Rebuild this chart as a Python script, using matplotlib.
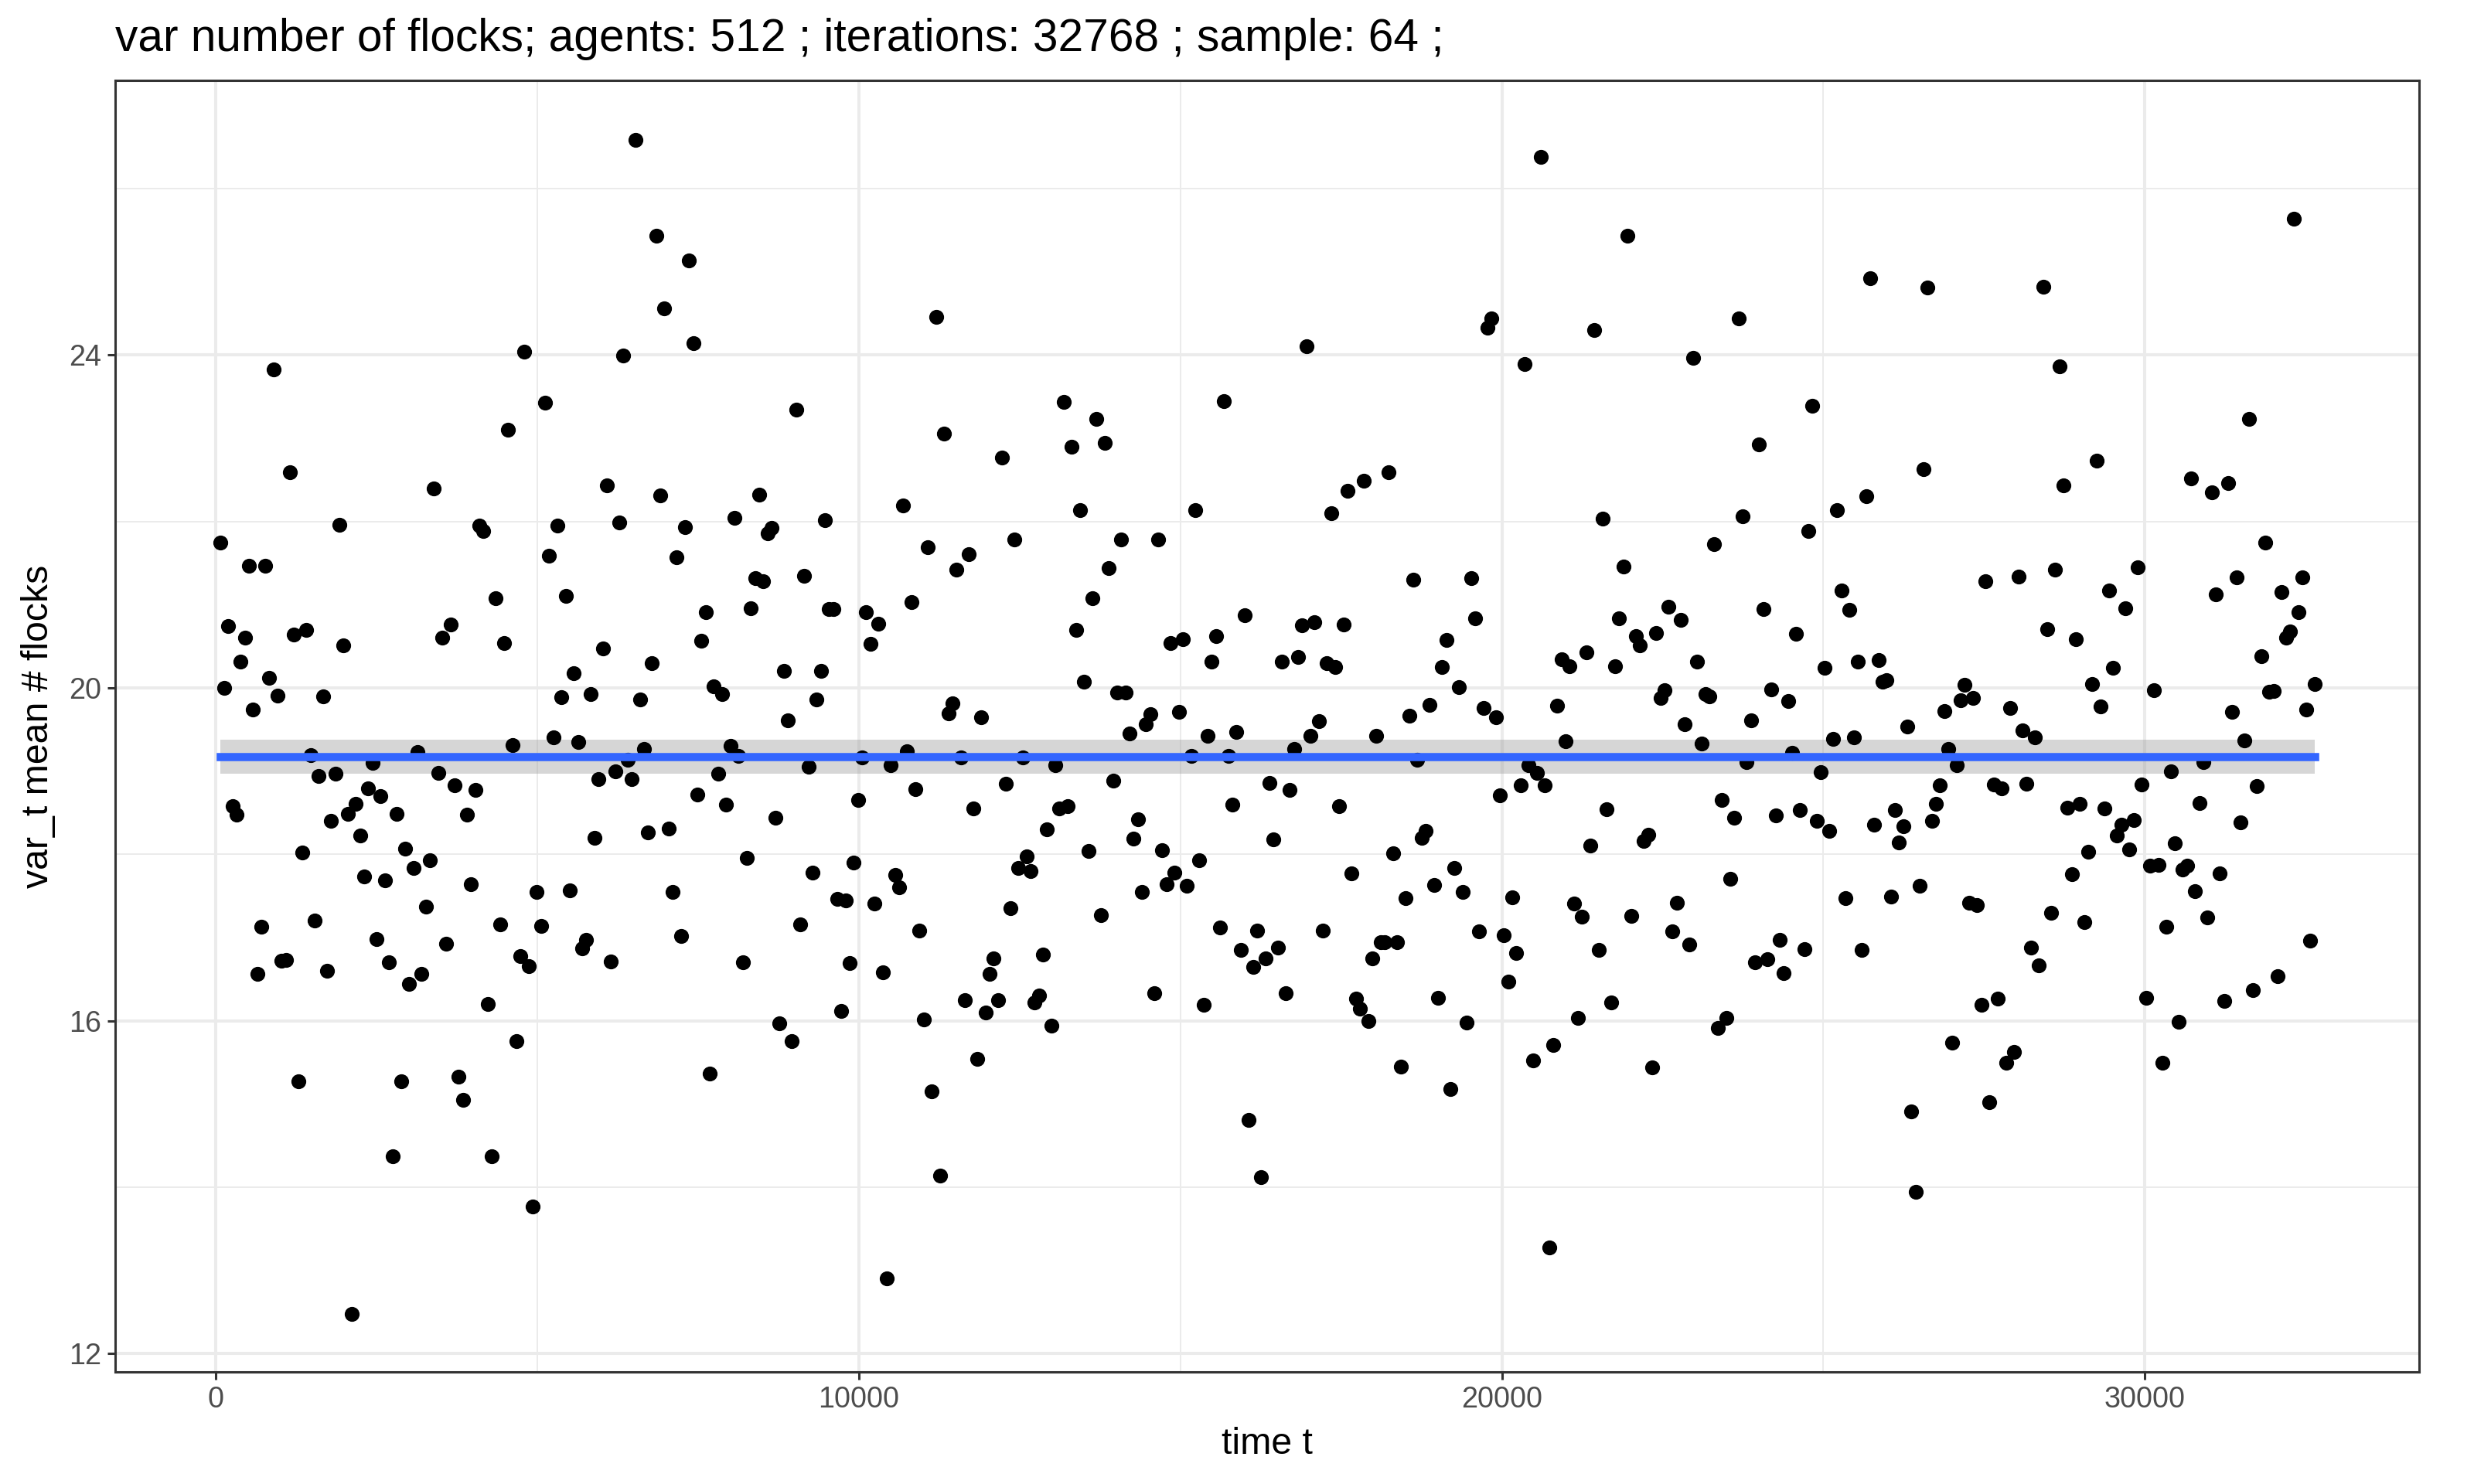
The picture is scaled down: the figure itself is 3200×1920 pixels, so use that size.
import numpy as np
import matplotlib
matplotlib.use("Agg")
import matplotlib.pyplot as plt

# sampled every 64 iterations, t = 64 .. 32640
step = 64

vals_a = [21.75, 20.0, 20.74, 18.58, 18.48, 20.32, 20.6, 21.47, 19.74, 16.56,
          17.13, 21.47, 20.12, 23.83, 19.91, 16.72, 16.73, 22.59, 20.64, 15.27,
          18.02, 20.7, 19.19, 17.2, 18.94, 19.9, 16.6, 18.4, 18.97, 21.96,
          20.51, 18.49, 12.48, 18.61, 18.23, 17.73, 18.79, 19.1, 16.98, 18.7,
          17.69, 16.7, 14.37, 18.49, 15.27, 18.07, 16.44, 17.84, 19.23, 16.56,
          17.37, 17.93, 22.4, 18.98, 20.6, 16.93, 20.76, 18.83, 15.33, 15.05,
          18.48, 17.64, 18.77, 21.95, 21.89, 16.2, 14.37, 21.08, 17.16, 20.54,
          23.1, 19.31, 15.76, 16.78, 24.04, 16.66, 13.77, 17.55]

vals_b = [17.14, 23.43, 21.59, 19.41, 21.95, 19.89, 21.11, 17.57, 20.18, 19.35,
          16.87, 16.97, 19.93, 18.2, 18.9, 20.47, 22.43, 16.71, 19.0, 21.99,
          23.99, 19.14, 18.9, 26.59, 19.86, 19.27, 18.26, 20.3, 25.43, 22.31,
          24.56, 18.31, 17.55, 21.57, 17.02, 21.93, 25.14, 24.14, 18.72, 20.57,
          20.91, 15.37, 20.02, 18.97, 19.93, 18.6, 19.3, 22.04, 19.18, 16.7,
          17.96, 20.96, 21.32, 22.32, 21.28, 21.86, 21.92, 18.44, 15.97, 20.2,
          19.61, 15.76, 23.34, 17.16, 21.35, 19.05, 17.78, 19.86, 20.2, 22.02,
          20.95, 20.95, 17.46, 16.12, 17.45, 16.69, 17.9, 18.65, 19.16, 20.91,
          20.53, 17.41, 20.77, 16.58, 12.9, 19.07, 17.75, 17.6, 22.19]

vals_c = [19.24, 21.03, 18.78, 17.08, 16.02, 21.69, 15.15, 24.46, 14.14, 23.06,
          19.69, 19.81, 21.42, 19.16, 16.25, 21.61, 18.55, 15.54, 19.65, 16.1,
          16.56, 16.75, 16.25, 22.77, 18.85, 17.35, 21.78, 17.84, 19.16, 17.98,
          17.8, 16.22, 16.3, 16.8, 18.3, 15.94, 19.07, 18.55, 23.44, 18.58,
          22.9, 20.7, 22.14, 20.07, 18.04, 21.08, 23.23, 17.27, 22.94, 21.44,
          18.89, 19.94, 21.78, 19.94, 19.45, 18.19, 18.42, 17.55, 19.56, 19.68,
          16.33, 21.78, 18.05, 17.64, 20.54, 17.78, 19.71, 20.59, 17.62, 19.18,
          22.14, 17.93, 16.19, 19.42, 20.32, 20.62, 17.12, 23.45, 19.18, 18.6,
          19.47, 16.85, 20.87, 14.81, 16.65, 17.08, 14.12, 16.75]

vals_d = [18.86, 18.18, 16.88, 20.32, 16.33, 18.77, 19.27, 20.37, 20.75, 24.11,
          19.42, 20.79, 19.6, 17.08, 20.3, 22.1, 20.25, 18.58, 20.76, 22.37,
          17.77, 16.27, 16.15, 22.49, 16.0, 16.75, 19.42, 16.94, 16.94, 22.59,
          18.01, 16.94, 15.45, 17.47, 19.67, 21.3, 19.14, 18.2, 18.28, 19.8,
          17.63, 16.28, 20.25, 20.58, 15.18, 17.84, 20.01, 17.55, 15.98, 21.32,
          20.84, 17.07, 19.76, 24.33, 24.44, 19.65, 18.71, 17.03, 16.47, 17.48,
          16.81, 18.83, 23.89, 19.07, 15.52, 18.98, 26.38, 18.83, 13.28, 15.71,
          19.79, 20.34, 19.36, 20.26, 17.41, 16.03, 17.25, 20.43, 18.11, 24.3,
          16.85, 22.03, 18.54, 16.22, 20.26, 20.84, 21.46, 25.43]

vals_e = [17.26, 20.62, 20.51, 18.16, 18.24, 15.44, 20.66, 19.88, 19.97, 20.98,
          17.07, 17.42, 20.82, 19.56, 16.92, 23.97, 20.32, 19.33, 19.93, 19.9,
          21.73, 15.91, 18.65, 16.03, 17.71, 18.44, 24.44, 22.06, 19.11, 19.61,
          16.7, 22.93, 20.95, 16.74, 19.98, 18.47, 16.97, 16.57, 19.84, 19.22,
          20.65, 18.53, 16.86, 21.89, 23.39, 18.4, 18.99, 20.24, 18.28, 19.39,
          22.14, 21.17, 17.47, 20.94, 19.41, 20.32, 16.85, 22.3, 24.92, 18.36,
          20.33, 20.07, 20.09, 17.49, 18.53, 18.14, 18.34, 19.54, 14.91, 13.94,
          17.62, 22.63, 24.81, 18.4, 18.61, 18.83, 19.72, 19.27, 15.74, 19.07,
          19.85, 20.04, 17.42, 19.88, 17.39, 16.19, 21.28, 15.02]

vals_f = [18.84, 16.27, 18.79, 15.5, 19.76, 15.63, 21.34, 19.49, 18.85, 16.88,
          19.41, 16.67, 24.82, 20.71, 17.3, 21.42, 23.86, 22.43, 18.56, 17.76,
          20.59, 18.61, 17.19, 18.03, 20.05, 22.73, 19.78, 18.55, 21.17, 20.24,
          18.23, 18.36, 20.96, 18.06, 18.41, 21.45, 18.84, 16.28, 17.86, 19.97,
          17.87, 15.5, 17.13, 19.0, 18.13, 15.99, 17.82, 17.86, 22.52, 17.56,
          18.62, 19.11, 17.24, 22.35, 21.12, 17.77, 16.24, 22.46, 19.71, 21.33,
          18.38, 19.37, 23.23, 16.37, 18.82, 20.38, 21.75, 19.95, 19.96, 16.54,
          21.15, 20.6, 20.68, 25.64, 20.91, 21.33, 19.74, 16.96, 20.05]

y = np.array(vals_a + vals_b + vals_c + vals_d + vals_e + vals_f)
t = step * np.arange(1, len(y) + 1)

# flat smooth: mean with 95% confidence band
n = len(y)
mu = y.mean()
half = 1.9647 * y.std(ddof=1) / np.sqrt(n)
tx = np.array([t.min(), t.max()])

plt.rcParams['font.family'] = ['Liberation Sans', 'DejaVu Sans']

fig = plt.figure(figsize=(16, 9.6), dpi=200)
ax = fig.add_axes([0.0466, 0.0755, 0.9313, 0.8703])

ax.fill_between(tx, mu - half, mu + half, color='#999999', alpha=0.4, lw=0, zorder=2)
ax.scatter(t, y, s=48, color='black', lw=0, zorder=3)
ax.plot(tx, [mu, mu], color='#3366FF', lw=3.8, zorder=4)

ax.set_xlim(-1565, 34269)
ax.set_ylim(11.78, 27.30)
ax.set_xticks([0, 10000, 20000, 30000])
ax.set_xticks([5000, 15000, 25000], minor=True)
ax.set_yticks([12, 16, 20, 24])
ax.set_yticks([14, 18, 22, 26], minor=True)

ax.grid(which='major', color='#EBEBEB', lw=1.45, zorder=0)
ax.grid(which='minor', color='#EBEBEB', lw=0.72, zorder=0)
ax.set_axisbelow(True)

for sp in ax.spines.values():
    sp.set_color('#333333')
    sp.set_linewidth(1.1)

ax.tick_params(which='major', length=3.6, width=1.1, color='#333333',
               labelsize=13.6, labelcolor='#4D4D4D', pad=3)
ax.tick_params(which='minor', length=0)

ax.set_xlabel('time t', fontsize=17.4, labelpad=6)
ax.set_ylabel('var_t mean # flocks', fontsize=17.4, labelpad=6)
fig.text(0.0466, 0.9656, 'var number of flocks; agents: 512 ; iterations: 32768 ; sample: 64 ;',
         fontsize=21.1, ha='left', va='baseline')

fig.savefig('out.png', dpi=200, facecolor='white')
